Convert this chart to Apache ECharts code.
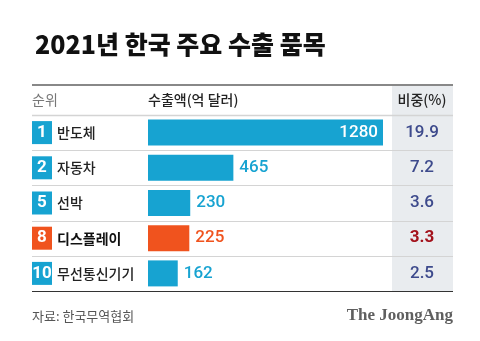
<!DOCTYPE html>
<html><head><meta charset="utf-8">
<script src="https://cdn.jsdelivr.net/npm/echarts@6/dist/echarts.min.js"></script>
<style>html,body{margin:0;padding:0;background:#fff}#c{width:480px;height:341px}</style>
</head><body><div id="c"></div>
<script>
const categories = ['반도체','자동차','선박','디스플레이','무선통신기기'];
const ranks = [1,2,5,8,10];
const values = [1280,465,230,225,162];
const shares = ['19.9','7.2','3.6','3.3','2.5'];
const highlight = [false,false,false,true,false];

const KR = '"Noto Sans CJK KR", "Noto Sans", sans-serif';
const BLUE = '#17A3D1', RED = '#F0531E';
const GL = 148, GR = 383, GT = 115, GB = 291;
const rowH = (GB - GT) / categories.length;

const chart = echarts.init(document.getElementById('c'));
const seps = [];
for (let i = 1; i < categories.length; i++) {
  const y = Math.round(GT + rowH * i) + 0.5;
  seps.push({type:'line', shape:{x1:32,y1:y,x2:453,y2:y}, style:{stroke:'#d4d4d4',lineWidth:1}, z:5});
}
chart.setOption({
  animation:false,
  title:{text:'2021년 한국 주요 수출 품목', left:30, top:27,
    textStyle:{fontFamily:KR, fontSize:25, fontWeight:900, color:'#111'}},
  grid:{left:GL, top:GT, width:GR-GL, height:GB-GT},
  xAxis:{type:'value', min:0, max:1280, show:false},
  yAxis:[{
    type:'category', data:categories, inverse:true,
    axisLine:{show:false}, axisTick:{show:false},
    axisLabel:{align:'left', margin:GL-32, fontFamily:KR,
      formatter:(v,i)=> highlight[i] ? `{br|${ranks[i]}}{nb|${v}}` : `{b|${ranks[i]}}{n|${v}}`,
      rich:{
        b:{backgroundColor:BLUE,color:'#fff',width:20,height:23,align:'center',fontSize:17,fontWeight:'bold',fontFamily:'Roboto'},
        br:{backgroundColor:RED,color:'#fff',width:20,height:23,align:'center',fontSize:17,fontWeight:'bold',fontFamily:'Roboto'},
        n:{fontSize:14,color:'#222',padding:[0,0,0,5],fontFamily:KR,fontWeight:500},
        nb:{fontSize:14,color:'#111',padding:[0,0,0,5],fontFamily:KR,fontWeight:'bold'}
      }}
  },{
    type:'category', data:categories, inverse:true, position:'right',
    axisLine:{show:false}, axisTick:{show:false},
    axisLabel:{align:'center', margin:39,
      formatter:(v,i)=> highlight[i] ? `{r|${shares[i]}}` : `{p|${shares[i]}}`,
      rich:{
        p:{fontSize:17,color:'#3D4A8C',fontFamily:'Roboto',fontWeight:500},
        r:{fontSize:17,color:'#A3121C',fontFamily:'Roboto',fontWeight:'bold'}
      }}
  }],
  series:[{
    type:'bar', barWidth:26, yAxisIndex:0,
    data: values.map((v,i)=>({
      value:v,
      itemStyle:{color: highlight[i] ? RED : BLUE},
      label: i===0 ? {show:true, position:'insideRight', color:'#fff', distance:5} :
        {show:true, position:'right', color: highlight[i] ? RED : BLUE, distance:6}
    })),
    label:{fontSize:17, fontFamily:'Roboto', fontWeight:500},
    z:3
  }],
  graphic:[
    {type:'rect', shape:{x:392,y:86,width:61,height:206}, style:{fill:'#E9ECEF'}, z:-1},
    {type:'line', shape:{x1:32,y1:85,x2:453,y2:85}, style:{stroke:'#888',lineWidth:2}, z:5},
    {type:'line', shape:{x1:32,y1:115.5,x2:453,y2:115.5}, style:{stroke:'#d4d4d4',lineWidth:1.5}, z:5},
    ...seps,
    {type:'line', shape:{x1:32,y1:291.5,x2:453,y2:291.5}, style:{stroke:'#333',lineWidth:1}, z:5},
    {type:'text', x:32, y:100, style:{text:'순위', fill:'#777', font:'14px '+KR, textVerticalAlign:'middle'}},
    {type:'text', x:148, y:100, style:{text:'수출액(억 달러)', fill:'#222', font:'500 14px '+KR, textVerticalAlign:'middle'}},
    {type:'text', x:422, y:100, style:{text:'비중(%)', fill:'#222', font:'500 14px '+KR, textAlign:'center', textVerticalAlign:'middle'}},
    {type:'text', x:32, y:316, style:{text:'자료: 한국무역협회', fill:'#555', font:'13px '+KR, textVerticalAlign:'middle'}},
    {type:'text', x:453, y:316, style:{text:'The JoongAng', fill:'#5f5f5f', font:'bold 17px "Liberation Serif", "DejaVu Serif", serif', textAlign:'right', textVerticalAlign:'middle'}}
  ]
});
</script></body></html>
